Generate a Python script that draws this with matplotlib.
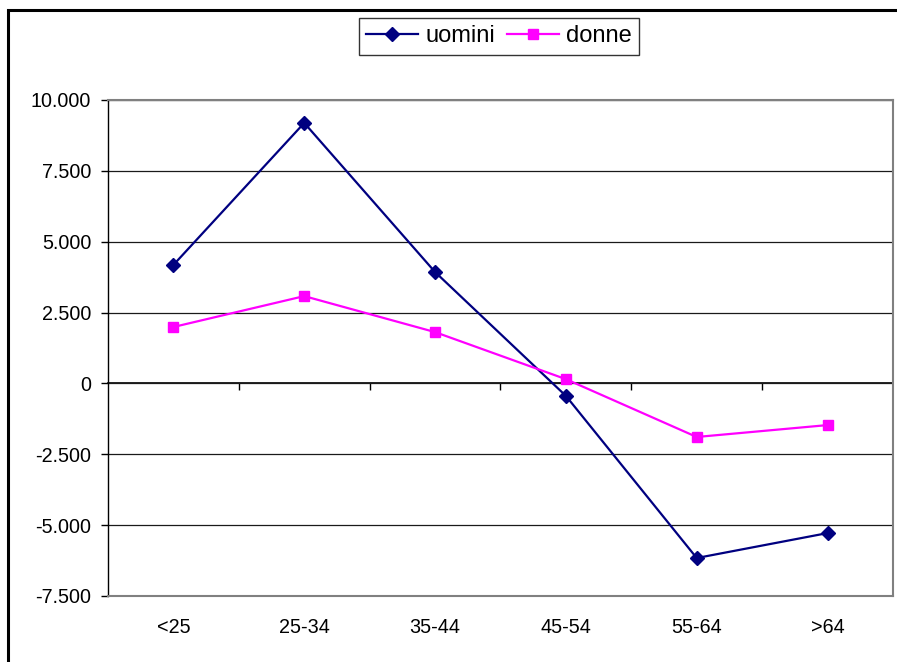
import numpy as np
import matplotlib.pyplot as plt
from matplotlib.patches import Rectangle
from matplotlib.ticker import FuncFormatter, FixedLocator

plt.rcParams['font.family'] = ['Liberation Sans', 'DejaVu Sans']

classi = ['<25', '25-34', '35-44', '45-54', '55-64', '>64']
uomini = [4180, 9190, 3930, -440, -6160, -5280]
donne = [1990, 3080, 1810, 150, -1890, -1470]

fig = plt.figure(figsize=(8.97, 6.62), dpi=100)
ax = fig.add_axes([0.1204, 0.0997, 0.8751, 0.7493])

x = np.arange(len(classi))
ax.plot(x, uomini, color='#000080', lw=1.6, marker='D', ms=7.5, label='uomini', zorder=4)
ax.plot(x, donne, color='#FF00FF', lw=1.6, marker='s', ms=7, label='donne', zorder=4)

ax.set_xlim(-0.5, len(classi) - 0.5)
ax.set_ylim(-7500, 10000)
ax.set_yticks(np.arange(-7500, 10001, 2500))
ax.yaxis.set_major_formatter(FuncFormatter(lambda v, p: '{:,.0f}'.format(v).replace(',', '.')))
ax.tick_params(axis='y', direction='out', length=5, width=1, pad=7, labelsize=14.2, colors='black')

ax.set_xticks(x)
ax.set_xticklabels(classi)
ax.tick_params(axis='x', length=0, pad=16, labelsize=14.2)

# griglia orizzontale
ax.grid(axis='y', color='#1a1a1a', lw=0.9)
ax.set_axisbelow(True)

for s in ['top', 'right', 'bottom']:
    ax.spines[s].set_color('#808080')
    ax.spines[s].set_linewidth(1.5)
ax.spines['left'].set_color('black')
ax.spines['left'].set_linewidth(1)

# asse delle categorie sullo zero, con tacche tra le classi
ymin, ymax = ax.get_ylim()
zero = ax.secondary_xaxis((0 - ymin) / (ymax - ymin))
zero.xaxis.set_major_locator(FixedLocator(x[:-1] + 0.5))
zero.set_xticklabels([])
zero.tick_params(direction='out', length=5, width=1, colors='black')
zero.spines['bottom'].set_color('black')
zero.spines['bottom'].set_linewidth(1.2)

fig.legend(loc='center', bbox_to_anchor=(499 / 897, 1 - 36.5 / 662), ncol=2,
           fontsize=17, frameon=True, fancybox=False, edgecolor='black',
           handlelength=2.2, handletextpad=0.3, columnspacing=0.5, borderpad=0.33)
fig.legends[0].get_frame().set_linewidth(1)

# cornice del grafico
fig.patches.append(Rectangle((8 / 897, -0.1), 1.2, 1 - 10 / 662 + 0.1, transform=fig.transFigure,
                             fill=False, edgecolor='black', lw=2.2))

fig.savefig('out.png', dpi=100)
